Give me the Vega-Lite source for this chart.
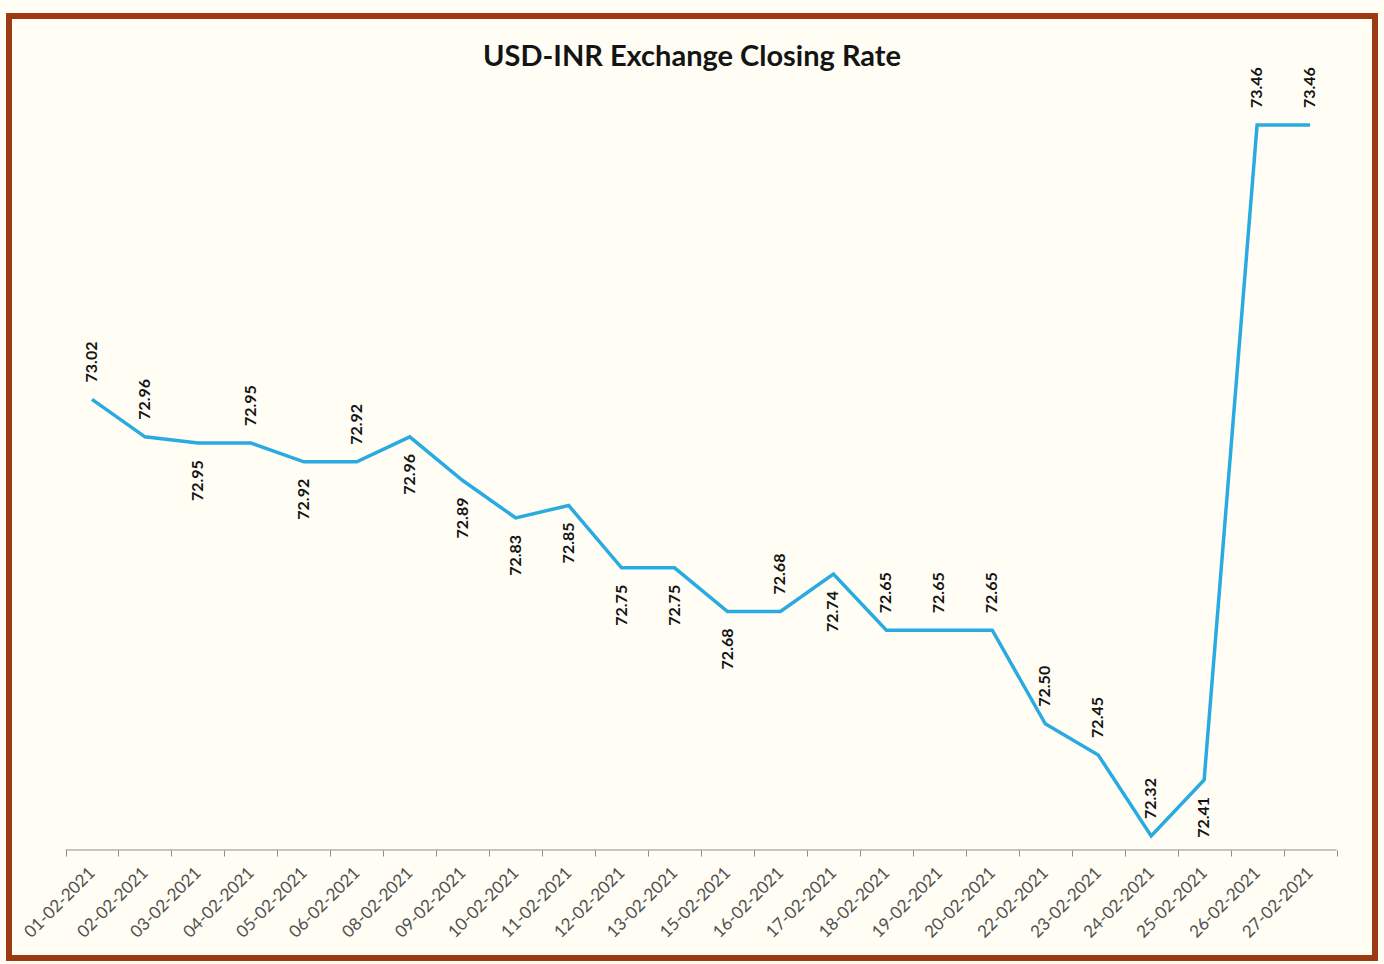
{
  "$schema": "https://vega.github.io/schema/vega-lite/v6.json",
  "autosize": "none",
  "width": 1366,
  "height": 942,
  "padding": {"left": 9, "top": 16, "right": 9, "bottom": 6},
  "background": "#FFFDF4",
  "config": {"view": {"stroke": "#9C3A12", "strokeWidth": 6, "fill": "#FFFDF4"}},
  "title": {"text": "USD-INR Exchange Closing Rate", "font": "Lato", "fontSize": 29, "fontWeight": "bold", "color": "#141414", "anchor": "middle", "frame": "group", "offset": -56},
  "data": {"values": [
    {"date": "01-02-2021", "rate": 73.02},
    {"date": "02-02-2021", "rate": 72.96},
    {"date": "03-02-2021", "rate": 72.95},
    {"date": "04-02-2021", "rate": 72.95},
    {"date": "05-02-2021", "rate": 72.92},
    {"date": "06-02-2021", "rate": 72.92},
    {"date": "08-02-2021", "rate": 72.96},
    {"date": "09-02-2021", "rate": 72.89},
    {"date": "10-02-2021", "rate": 72.83},
    {"date": "11-02-2021", "rate": 72.85},
    {"date": "12-02-2021", "rate": 72.75},
    {"date": "13-02-2021", "rate": 72.75},
    {"date": "15-02-2021", "rate": 72.68},
    {"date": "16-02-2021", "rate": 72.68},
    {"date": "17-02-2021", "rate": 72.74},
    {"date": "18-02-2021", "rate": 72.65},
    {"date": "19-02-2021", "rate": 72.65},
    {"date": "20-02-2021", "rate": 72.65},
    {"date": "22-02-2021", "rate": 72.50},
    {"date": "23-02-2021", "rate": 72.45},
    {"date": "24-02-2021", "rate": 72.32},
    {"date": "25-02-2021", "rate": 72.41},
    {"date": "26-02-2021", "rate": 73.46},
    {"date": "27-02-2021", "rate": 73.46}
  ]},
  "layer": [
    {
      "mark": {"type": "line", "color": "#29ABE2", "strokeWidth": 3.5},
      "encoding": {
        "x": {"field": "date", "type": "ordinal", "sort": null, "bandPosition": 0.5,
          "scale": {"type": "band", "paddingInner": 0, "paddingOuter": 0.897, "align": 0.595},
          "axis": {"title": null, "orient": "bottom", "offset": -108, "domain": false, "ticks": true, "tickBand": "extent", "tickSize": 6, "tickColor": "#8c8c8c", "labelAngle": -45, "labelAlign": "right", "labelBaseline": "middle", "labelPadding": 14, "labelFont": "Lato", "labelFontSize": 17, "labelColor": "#505050", "grid": false}},
        "y": {"field": "rate", "type": "quantitative", "scale": {"domain": [72.1244, 73.6348], "zero": false, "nice": false}, "axis": null}
      }
    },
    {
      "transform": [{"filter": "datum.date == '01-02-2021'"}],
      "mark": {"type": "rule", "color": "#8c8c8c", "strokeWidth": 1},
      "encoding": {
        "x": {"field": "date", "type": "ordinal", "sort": null, "bandPosition": 0},
        "x2": {"datum": "27-02-2021", "bandPosition": 1},
        "y": {"datum": 72.2976}
      }
    },
    {
      "transform": [{"filter": "indexof(['01-02-2021','02-02-2021','04-02-2021','06-02-2021','16-02-2021','18-02-2021','19-02-2021','20-02-2021','22-02-2021','23-02-2021','24-02-2021','26-02-2021','27-02-2021'], datum.date) >= 0"}],
      "mark": {"type": "text", "angle": -90, "align": "left", "baseline": "middle", "dx": 17, "font": "Lato", "fontSize": 16, "fontWeight": "bold", "color": "#141414"},
      "encoding": {
        "x": {"field": "date", "type": "ordinal", "sort": null, "bandPosition": 0.5},
        "y": {"field": "rate", "type": "quantitative"},
        "text": {"field": "rate", "type": "quantitative", "format": ".2f"}
      }
    },
    {
      "transform": [{"filter": "indexof(['01-02-2021','02-02-2021','04-02-2021','06-02-2021','16-02-2021','18-02-2021','19-02-2021','20-02-2021','22-02-2021','23-02-2021','24-02-2021','26-02-2021','27-02-2021'], datum.date) < 0"}],
      "mark": {"type": "text", "angle": -90, "align": "right", "baseline": "middle", "dx": -17, "font": "Lato", "fontSize": 16, "fontWeight": "bold", "color": "#141414"},
      "encoding": {
        "x": {"field": "date", "type": "ordinal", "sort": null, "bandPosition": 0.5},
        "y": {"field": "rate", "type": "quantitative"},
        "text": {"field": "rate", "type": "quantitative", "format": ".2f"}
      }
    }
  ]
}
